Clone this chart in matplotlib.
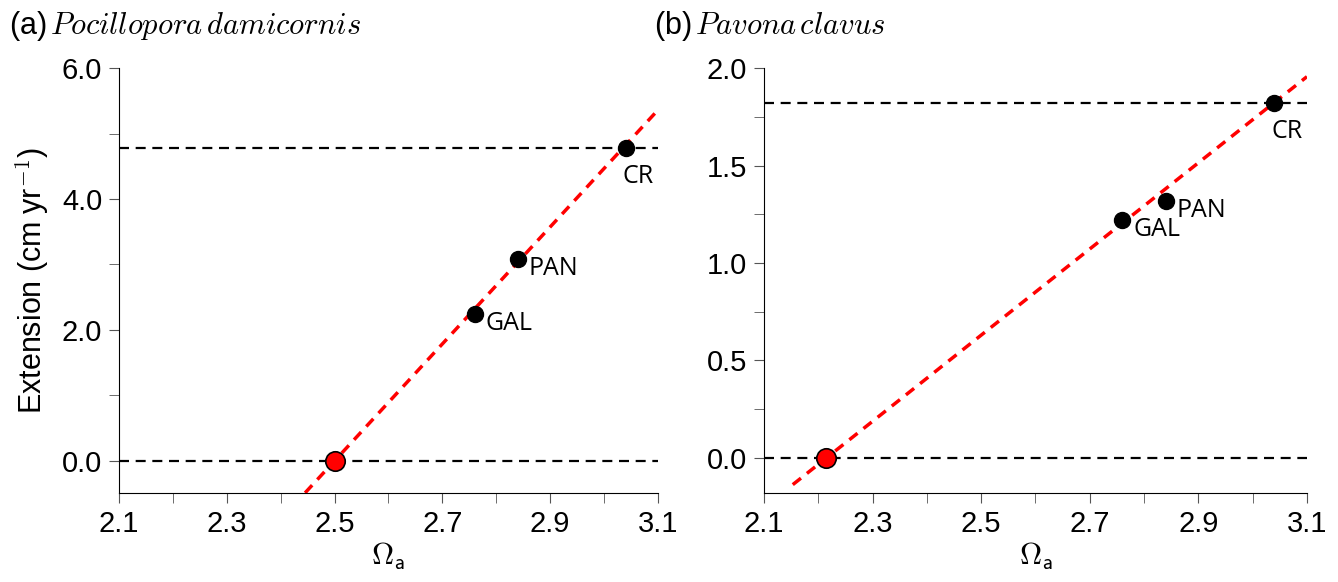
import matplotlib
matplotlib.use("Agg")
import matplotlib.pyplot as plt
from matplotlib.ticker import MultipleLocator
import numpy as np

plt.rcParams['mathtext.fontset'] = 'cm'
plt.rcParams['font.family'] = ['Liberation Sans', 'DejaVu Sans']

# data
sites = ['GAL', 'PAN', 'CR']
omega = [2.76, 2.84, 3.04]
ext_poc = [2.24, 3.08, 4.78]
ext_pav = [1.22, 1.32, 1.82]

# zero-extension intercepts (red points) and fit slopes
omega0_poc = 2.50
omega0_pav = 2.215
slope_poc = 8.93
slope_pav = 2.21

label_font = ['Open Sans', 'Noto Sans', 'DejaVu Sans']

fig = plt.figure(figsize=(13.38, 5.82), dpi=100)
ax1 = fig.add_axes([0.0889, 0.1529, 0.4028, 0.7302])
ax2 = fig.add_axes([0.5710, 0.1529, 0.4058, 0.7302])


def draw_panel(ax, ext, om0, slope, fit_x0, ylim, major, minor):
    x = np.array([fit_x0, 3.1])
    ax.plot(x, slope * (x - om0), color='red', ls=(0, (3, 2.2)), lw=2.5, zorder=2)
    ax.axhline(ext[-1], color='black', ls=(0, (4.5, 3)), lw=1.6, zorder=1)
    ax.axhline(0, color='black', ls=(0, (4.5, 3)), lw=1.6, zorder=1)
    ax.plot(omega, ext, 'o', color='black', ms=11.5, zorder=3)
    ax.plot([om0], [0], 'o', color='red', mec='black', mew=1.2, ms=14, zorder=3)
    for s, xo, yo in zip(sites, omega, ext):
        if s == 'CR':
            off = (-2, -25)
        else:
            off = (8, -11.5)
        ax.annotate(s, (xo, yo), xytext=off, textcoords='offset points',
                    ha='left', va='baseline', fontsize=18, family=label_font)
    ax.set_xlim(2.1, 3.1)
    ax.set_ylim(*ylim)
    ax.spines['top'].set_visible(False)
    ax.spines['right'].set_visible(False)
    ax.xaxis.set_major_locator(MultipleLocator(0.2, offset=0.1))
    ax.xaxis.set_minor_locator(MultipleLocator(0.1))
    ax.yaxis.set_major_locator(MultipleLocator(major))
    ax.yaxis.set_minor_locator(MultipleLocator(minor))
    ax.xaxis.set_major_formatter(plt.FormatStrFormatter('%.1f'))
    ax.yaxis.set_major_formatter(plt.FormatStrFormatter('%.1f'))
    ax.tick_params(which='both', direction='out', labelsize=21, color='#555555',
                   length=7, pad=5)
    ax.set_xlabel(r'$\Omega_{\mathsf{a}}$', fontsize=22, labelpad=2)


draw_panel(ax1, ext_poc, omega0_poc, slope_poc, 2.4, (-0.49, 6.0), 2.0, 1.0)
draw_panel(ax2, ext_pav, omega0_pav, slope_pav, 2.153, (-0.18, 2.0), 0.5, 0.25)

ax1.set_ylabel(r'Extension (cm$\;$yr$^{-1}$)', fontsize=22, labelpad=8)

fig.text(0.007, 0.955, r'(a)$\,\mathit{Pocillopora\,damicornis}$', fontsize=22,
         va='center')
fig.text(0.489, 0.955, r'(b)$\,\mathit{Pavona\,clavus}$', fontsize=22,
         va='center')

fig.savefig('out.png', dpi=100)
